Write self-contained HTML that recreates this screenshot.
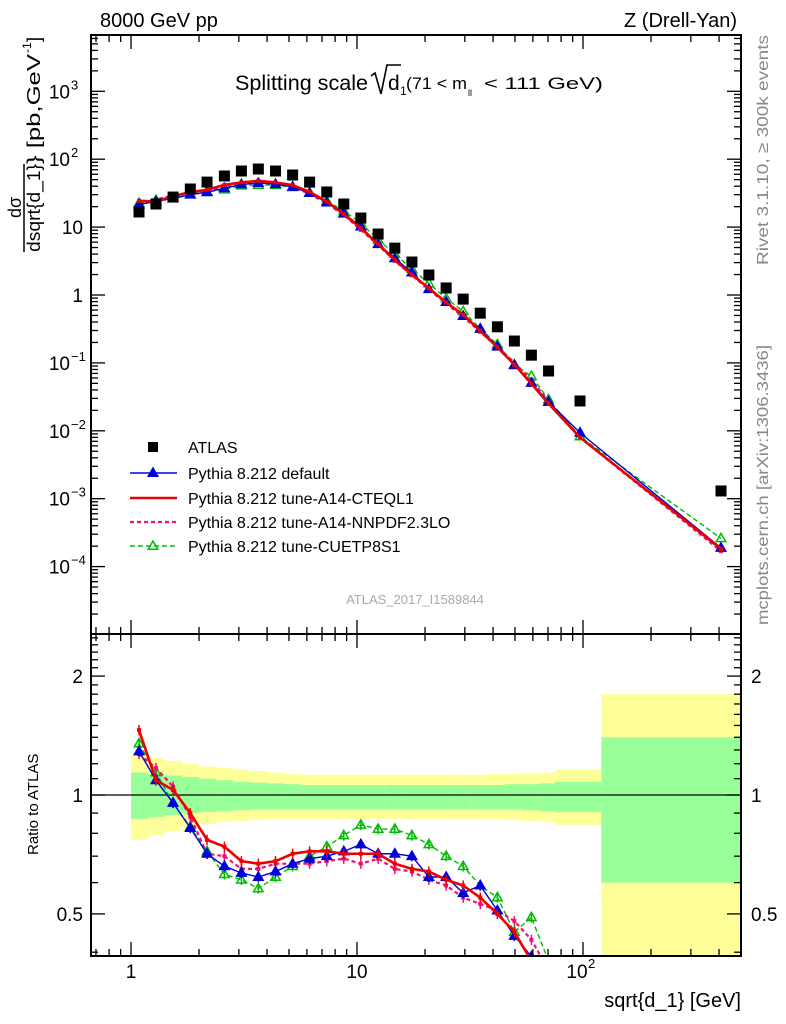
<!DOCTYPE html>
<html><head><meta charset="utf-8"><style>
html,body{margin:0;padding:0;background:#fff;width:786px;height:1024px;overflow:hidden;position:relative;}
svg{display:block;position:absolute;left:0;top:0;font-family:"Liberation Sans",sans-serif;}
</style></head><body>
<svg id="c" width="786" height="1024" viewBox="0 0 786 1024" xmlns="http://www.w3.org/2000/svg" overflow="hidden">
<rect width="786" height="1024" fill="#fff"/>
<g id="bands"></g>
<g id="marks"></g>
<g id="axes"></g>
<text x="100" y="27" font-size="20">8000 GeV pp</text>
<text x="737" y="27" font-size="20" text-anchor="end">Z (Drell-Yan)</text>
<g>
<text x="235" y="90" font-size="21" textLength="133" lengthAdjust="spacingAndGlyphs">Splitting scale</text>
<path d="M371,76 l4,-3 l6,21 l6,-29 h14" fill="none" stroke="#000" stroke-width="1.6"/>
<text x="388" y="90" font-size="21">d</text><text x="400" y="95" font-size="12">1</text>
<text x="406" y="89" font-size="17" textLength="61" lengthAdjust="spacingAndGlyphs">(71 &lt; m</text>
<text x="468" y="96" font-size="9">ll</text>
<text x="484" y="89" font-size="17" textLength="119" lengthAdjust="spacingAndGlyphs">&lt; 111 GeV)</text>
</g>
<g transform="translate(24,252) rotate(-90)">
<text x="0" y="16" font-size="18" textLength="88" lengthAdjust="spacingAndGlyphs">dsqrt{d_1}</text>
<line x1="0" y1="0" x2="88" y2="0" stroke="#000" stroke-width="1.5"/>
<text x="34" y="-3" font-size="18">dσ</text>
<text x="88" y="16" font-size="18" textLength="110" lengthAdjust="spacingAndGlyphs">} [pb,GeV</text><text x="199" y="7" font-size="12">-1</text><text x="210" y="16" font-size="18">]</text>
</g>
<text transform="translate(38,855) rotate(-90)" font-size="15">Ratio to ATLAS</text>
<text x="741" y="1007" font-size="20" text-anchor="end">sqrt{d_1} [GeV]</text>
<text transform="translate(768,265) rotate(-90)" font-size="16" fill="#888" textLength="230" lengthAdjust="spacingAndGlyphs">Rivet 3.1.10, ≥ 300k events</text>
<text transform="translate(768,625) rotate(-90)" font-size="16" fill="#888" textLength="280" lengthAdjust="spacingAndGlyphs">mcplots.cern.ch [arXiv:1306.3436]</text>
<text x="415" y="604" font-size="13" fill="#aaa" text-anchor="middle">ATLAS_2017_I1589844</text>
<g id="legend"></g>
</svg>
<script>
const xs=[1.085,1.29,1.535,1.83,2.17,2.59,3.08,3.66,4.36,5.19,6.17,7.35,8.74,10.4,12.4,14.7,17.5,20.8,24.8,29.5,35.1,41.8,49.7,59.1,70.4,97,408];
const atlas=[16.7,21.9,27.7,36.4,46,56.6,67,71.7,67,58.5,46,32.9,21.9,13.6,7.9,4.9,3.06,1.97,1.27,0.87,0.54,0.34,0.21,0.13,0.076,0.0275,0.0013];
const rBlue=[1.29,1.09,0.955,0.825,0.71,0.66,0.635,0.62,0.64,0.67,0.69,0.70,0.72,0.75,0.71,0.71,0.70,0.62,0.62,0.565,0.59,0.51,0.44,0.39,0.35,0.34,0.145];
const rRed=[1.46,1.09,1.03,0.90,0.77,0.74,0.68,0.67,0.68,0.71,0.72,0.72,0.71,0.71,0.71,0.67,0.65,0.64,0.61,0.59,0.55,0.50,0.45,0.38,0.33,0.29,0.14];
const rPink=[1.27,1.17,1.05,0.88,0.71,0.70,0.65,0.65,0.67,0.67,0.67,0.68,0.69,0.67,0.69,0.65,0.64,0.61,0.59,0.55,0.53,0.51,0.48,0.43,0.36,0.29,0.13];
const rGreen=[1.35,1.14,0.955,0.83,0.72,0.63,0.61,0.58,0.62,0.66,0.70,0.74,0.79,0.84,0.82,0.82,0.79,0.75,0.70,0.66,0.59,0.55,0.45,0.49,0.38,0.30,0.20];
const binEdges=[1,1.19,1.41,1.68,2.0,2.38,2.83,3.36,4.0,4.75,5.65,6.72,7.99,9.5,11.3,13.4,16.0,19.0,22.6,26.9,31.9,38.0,45.2,53.7,63.8,75.3,120.5,500];
const yelUp=[1.26,1.24,1.22,1.2,1.18,1.17,1.16,1.15,1.14,1.13,1.125,1.125,1.125,1.125,1.125,1.125,1.125,1.125,1.125,1.125,1.125,1.13,1.13,1.135,1.14,1.16,1.80];
const yelDn=[0.77,0.79,0.81,0.83,0.845,0.855,0.86,0.865,0.87,0.87,0.87,0.87,0.87,0.87,0.87,0.87,0.87,0.87,0.87,0.87,0.87,0.87,0.865,0.86,0.855,0.84,0.3];
const grnUp=[1.14,1.13,1.12,1.11,1.1,1.09,1.08,1.075,1.07,1.065,1.06,1.06,1.06,1.06,1.06,1.06,1.06,1.06,1.06,1.06,1.06,1.06,1.065,1.065,1.07,1.08,1.40];
const grnDn=[0.87,0.88,0.89,0.90,0.905,0.91,0.915,0.92,0.92,0.92,0.92,0.92,0.92,0.92,0.92,0.92,0.92,0.92,0.92,0.92,0.92,0.92,0.92,0.915,0.91,0.905,0.60];
const mainTicks=[1e3,1e2,10,1,0.1,0.01,1e-3,1e-4];
const mainTickLabels=[["10","3"],["10","2"],["10",""],["1",""],["10","−1"],["10","−2"],["10","−3"],["10","−4"]];
const ratioTicks=[2,1,0.5];
const ratioTickLabels=["2","1","0.5"];
const xTicks=[1,10,100];
const xTickLabels=[["1",""],["10",""],["10","2"]];

const NS="http://www.w3.org/2000/svg";
const L=91,R=741,T=35,MB=634,RB=956;
const X=v=>131+226*Math.log10(v);
const Y=v=>295-67.9*Math.log10(v);
const YR=v=>795-395*Math.log10(v);
function mk(p,tag,at){const e=document.createElementNS(NS,tag);for(const k in at)e.setAttribute(k,at[k]);p.appendChild(e);return e;}
const bands=document.getElementById('bands'),marks=document.getElementById('marks'),axes=document.getElementById('axes'),leg=document.getElementById('legend');

const clipR=v=>Math.max(MB,Math.min(RB,YR(v)));
for(let i=0;i<yelUp.length;i++){
  const x0=X(binEdges[i]),x1=Math.min(R,X(binEdges[i+1]));
  const y1=mk(bands,'rect',{x:x0,y:clipR(yelUp[i]),width:x1-x0,height:clipR(yelDn[i])-clipR(yelUp[i]),fill:'#ffff99'});
  
  
  const g1=mk(bands,'rect',{x:x0,y:clipR(grnUp[i]),width:x1-x0,height:clipR(grnDn[i])-clipR(grnUp[i]),fill:'#99ff99'});
  
  
}
const one=mk(bands,'line',{x1:L,x2:R,y1:YR(1),y2:YR(1),stroke:'#000','stroke-width':1.3});



const defs=mk(document.getElementById('c'),'defs',{});
const cpm=mk(defs,'clipPath',{id:'cm'});mk(cpm,'rect',{x:L,y:T,width:R-L,height:MB-T});
const cpr=mk(defs,'clipPath',{id:'cr'});mk(cpr,'rect',{x:L,y:MB,width:R-L,height:RB-MB});
const gm=mk(marks,'g',{'clip-path':'url(#cm)'}),gr=mk(marks,'g',{'clip-path':'url(#cr)'});

function tri(g,x,y,col,fill,s){return mk(g,'path',{d:`M${x},${y-s} L${x+s*0.95},${y+s*0.65} L${x-s*0.95},${y+s*0.65}Z`,fill:fill?col:'none',stroke:col,'stroke-width':1.5});}
const series=[
 {r:rGreen,col:'#00bb00',w:1.4,dash:'5,3',m:'open',name:'cuetp8s1'},
 {r:rPink,col:'#ee1177',w:2.2,dash:'4,3',m:'sq',name:'a14-nnpdf'},
 {r:rBlue,col:'#0000dd',w:1.4,dash:'',m:'tri',name:'default'},
 {r:rRed,col:'#ee0000',w:2.6,dash:'',m:'sq',name:'a14-cteql1'}
];
series.forEach(s=>{
  const mainVals=s.r.map((r,i)=>r*atlas[i]);
  [[gm,(i)=>Y(mainVals[i])],[gr,(i)=>YR(s.r[i])]].forEach(([g,fy],pi)=>{
    const pts=xs.map((x,i)=>X(x)+','+fy(i)).join(' ');
    const pl=mk(g,'polyline',{points:pts,fill:'none',stroke:s.col,'stroke-width':s.w,'stroke-dasharray':s.dash});
    
    
    xs.forEach((x,i)=>{
      const cx=X(x),cy=fy(i);
      if(pi){const e=s.r[i]*0.03;const eb=mk(g,'line',{x1:cx,x2:cx,y1:YR(s.r[i]+e),y2:YR(s.r[i]-e),stroke:s.col,'stroke-width':1.5});
        
        }
      let m;
      if(s.m==='tri')m=tri(g,cx,cy,s.col,true,5);
      else if(s.m==='open')m=tri(g,cx,cy,s.col,false,5);
      else m=mk(g,'rect',{x:cx-2,y:cy-2,width:4,height:4,fill:s.col});
      
      
    });
  });
});
atlas.forEach((v,i)=>{
  const r=mk(gm,'rect',{x:X(xs[i])-5.5,y:Y(v)-5.5,width:11,height:11,fill:'#000'});
  
  
});

[[T,MB],[MB,RB]].forEach(([a,b])=>{mk(axes,'rect',{x:L,y:a,width:R-L,height:b-a,fill:'none',stroke:'#000','stroke-width':2});});
function xt(y,dir){for(let d=-1;d<3;d++)for(let k=1;k<10;k++){const v=k*Math.pow(10,d),x=X(v);if(x<L||x>R)continue;const len=k===1?14:7;
  mk(axes,'line',{x1:x,x2:x,y1:y,y2:y+dir*len,stroke:'#000','stroke-width':1.3});}}
xt(T,1);xt(MB,-1);xt(MB,1);xt(RB,-1);
for(let d=-5;d<4;d++)for(let k=1;k<10;k++){const y=Y(k*Math.pow(10,d));if(y<T||y>MB)continue;const len=k===1?14:7;
  mk(axes,'line',{x1:L,x2:L+len,y1:y,y2:y,stroke:'#000','stroke-width':1.3});mk(axes,'line',{x1:R,x2:R-len,y1:y,y2:y,stroke:'#000','stroke-width':1.3});}
for(let j=4;j<=25;j++){const v=j/10;const y=YR(v);if(y<MB||y>RB)continue;const len=(j===5||j===10||j===20)?14:7;
  mk(axes,'line',{x1:L,x2:L+len,y1:y,y2:y,stroke:'#000','stroke-width':1.3});mk(axes,'line',{x1:R,x2:R-len,y1:y,y2:y,stroke:'#000','stroke-width':1.3});}
mainTicks.forEach((v,i)=>{const t=mk(axes,'text',{x:mainTickLabels[i][1]?70:83,y:Y(v)+7,'font-size':19,'text-anchor':'end'});t.textContent=mainTickLabels[i][0];
  
  
  if(mainTickLabels[i][1]){const s=mk(axes,'text',{x:71,y:Y(v)-2,'font-size':13});s.textContent=mainTickLabels[i][1];}});
ratioTicks.forEach((v,i)=>{[[83,'end'],[751,'start']].forEach(([x,a])=>{const t=mk(axes,'text',{x:x,y:YR(v)+7,'font-size':19,'text-anchor':a});t.textContent=ratioTickLabels[i];
  
  });});
xTicks.forEach((v,i)=>{const t=mk(axes,'text',{x:X(v)-(xTickLabels[i][1]?6:0),y:978,'font-size':19,'text-anchor':'middle'});t.textContent=xTickLabels[i][0];
  
  
  if(xTickLabels[i][1]){const s=mk(axes,'text',{x:X(v)+5,y:968,'font-size':13});s.textContent=xTickLabels[i][1];}});

const legItems=[["ATLAS",'atlas'],["Pythia 8.212 default",'tri'],["Pythia 8.212 tune-A14-CTEQL1",'red'],["Pythia 8.212 tune-A14-NNPDF2.3LO",'pink'],["Pythia 8.212 tune-CUETP8S1",'open']];
const ly=[447,473,498,522,546];
legItems.forEach(([lab,k],i)=>{const y=ly[i];
  const g=mk(leg,'g',{});
  
  
  if(k==='atlas')mk(g,'rect',{x:148,y:y-5,width:10,height:10,fill:'#000'});
  if(k==='tri'){mk(g,'line',{x1:130,x2:177,y1:y,y2:y,stroke:'#0000dd','stroke-width':1.4});tri(g,153,y,'#0000dd',true,5);}
  if(k==='red')mk(g,'line',{x1:130,x2:177,y1:y,y2:y,stroke:'#ee0000','stroke-width':2.6});
  if(k==='pink')mk(g,'line',{x1:130,x2:177,y1:y,y2:y,stroke:'#ee1177','stroke-width':2.2,'stroke-dasharray':'4,3'});
  if(k==='open'){mk(g,'line',{x1:130,x2:177,y1:y,y2:y,stroke:'#00bb00','stroke-width':1.4,'stroke-dasharray':'5,3'});tri(g,153,y,'#00bb00',false,5);}
  const t=mk(g,'text',{x:188,y:y+6,'font-size':16});t.textContent=lab;});
</script>
</body></html>
